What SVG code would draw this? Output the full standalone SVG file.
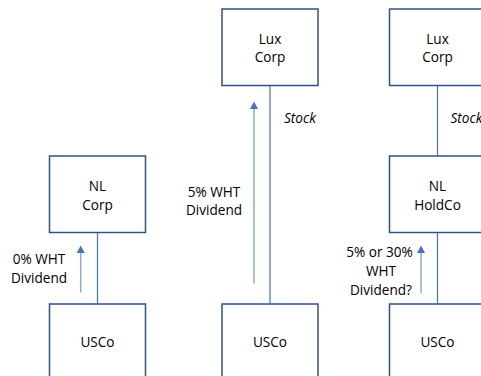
<svg xmlns="http://www.w3.org/2000/svg" width="481" height="376" viewBox="0 0 481 376">
<defs>
<style>
.box{fill:#fff;stroke:#2F528F;stroke-width:1.5}
.conn{stroke:#4472C4;stroke-width:1.2;fill:none}
.flow{stroke:#8FAADC;stroke-width:1.5;fill:none}
.head{fill:#4472C4}
text{font-family:"Open Sans","Liberation Sans",sans-serif;font-size:13.6px;fill:#000;text-anchor:middle}
.it{font-style:italic;text-anchor:start}
</style>
</defs>
<rect width="481" height="376" fill="#fff"/>
<g id="connectors">
<line class="conn" x1="97.5" y1="232.5" x2="97.5" y2="304"/>
<line class="conn" x1="270" y1="85.5" x2="270" y2="304"/>
<line class="conn" x1="437.5" y1="85.5" x2="437.5" y2="156"/>
<line class="conn" x1="437.5" y1="232.5" x2="437.5" y2="304"/>
<line class="flow" x1="80.7" y1="292.5" x2="80.7" y2="252"/>
<path class="head" d="M80.7,245.5 L84.7,253 L76.7,253 Z"/>
<line class="flow" x1="254" y1="283.5" x2="254" y2="108"/>
<path class="head" d="M254,101.5 L258,109 L250,109 Z"/>
<line class="flow" x1="421" y1="293.5" x2="421" y2="252"/>
<path class="head" d="M421,245.5 L425,253 L417,253 Z"/>
<text class="it" x="284" y="123">Stock</text>
<text class="it" x="450.5" y="123">Stock</text>
<text x="39" y="263.5">0% WHT</text>
<text x="39" y="282.5">Dividend</text>
<text x="214" y="196.5">5% WHT</text>
<text x="214" y="215">Dividend</text>
<text x="379.5" y="257">5% or 30%</text>
<text x="381" y="276">WHT</text>
<text x="381" y="295">Dividend?</text>
</g>
<g id="nlcorp">
<rect class="box" x="49.5" y="156" width="96" height="76.5"/>
<text x="97.5" y="190.5">NL</text>
<text x="97.5" y="209.5">Corp</text>
</g>
<g id="usco1">
<rect class="box" x="49.5" y="304" width="96" height="80"/>
<text x="97.5" y="347">USCo</text>
</g>
<g id="luxcorp1">
<rect class="box" x="222" y="9" width="96" height="76.5"/>
<text x="270" y="43.5">Lux</text>
<text x="270" y="62">Corp</text>
</g>
<g id="usco2">
<rect class="box" x="222" y="304" width="96" height="80"/>
<text x="270" y="347">USCo</text>
</g>
<g id="luxcorp2">
<rect class="box" x="389.5" y="9" width="96" height="76.5"/>
<text x="437.5" y="43.5">Lux</text>
<text x="437.5" y="62">Corp</text>
</g>
<g id="nlholdco">
<rect class="box" x="389.5" y="156" width="96" height="76.5"/>
<text x="437.5" y="190.5">NL</text>
<text x="437.5" y="209.5">HoldCo</text>
</g>
<g id="usco3">
<rect class="box" x="389.5" y="304" width="96" height="80"/>
<text x="437.5" y="347">USCo</text>
</g>
</svg>
